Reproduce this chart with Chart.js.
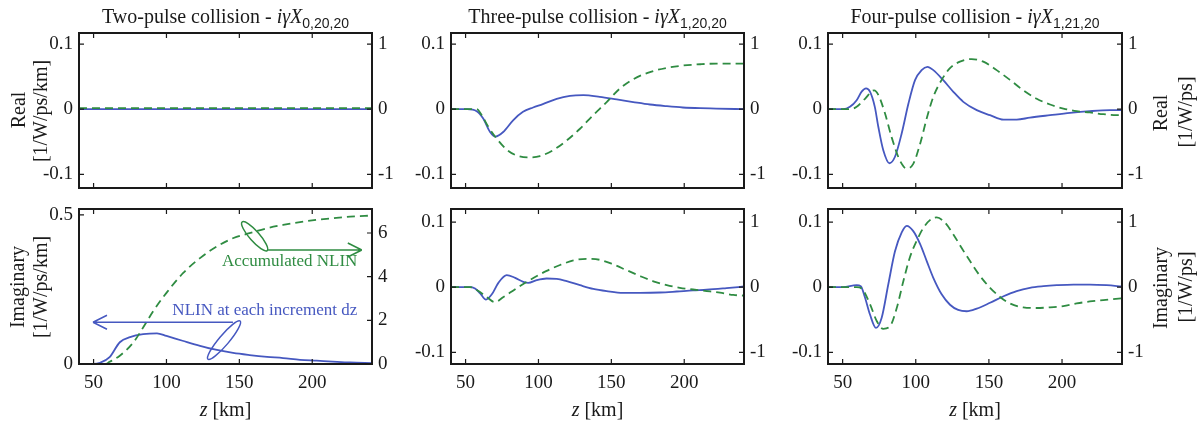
<!DOCTYPE html>
<html><head><meta charset="utf-8">
<script src="https://cdn.jsdelivr.net/npm/chart.js@4/dist/chart.umd.min.js"></script>
<style>
html,body{margin:0;padding:0;background:#fff;}
#wrap{position:relative;width:1200px;height:425px;overflow:hidden;font-family:"Liberation Serif",serif;color:#1a1a1a;}
.lbl{position:absolute;white-space:nowrap;transform:translate(-50%,-50%);font-size:20px;line-height:1;}
.rot{transform:translate(-50%,-50%) rotate(-90deg);}
.sub{font-family:"Liberation Sans",sans-serif;font-size:14px;position:relative;top:5px;}
i{font-style:italic;}
</style></head>
<body><div id="wrap"></div>
<script>
// ---------- tick values ----------
const xTicks = [50, 100, 150, 200];
const yTicksPm = [-0.1, 0, 0.1];
const y2TicksPm = [-1, 0, 1];
const yTicksTwoIm = [0, 0.5];
const y2TicksTwoIm = [0, 2, 4, 6];

// ---------- Two-pulse, real ----------
const zTwoReBlue = [40, 60, 80, 100, 120, 140, 160, 180, 200, 220, 241];
const twoReBlue = [0, 0, 0, 0, 0, 0, 0, 0, 0, 0, 0];
const zTwoReGreen = [40, 60, 80, 100, 120, 140, 160, 180, 200, 220, 241];
const twoReGreen = [0.015, 0.015, 0.015, 0.015, 0.015, 0.015, 0.015, 0.015, 0.015, 0.015, 0.015];

// ---------- Three-pulse, real ----------
const zThreeReBlue = [40, 51, 57.6, 62, 66.8, 70.5, 75.8, 82.6, 89.4, 96.3, 103, 112.5, 121.6, 130.8, 142, 153.7, 165, 176.5, 188, 199, 211, 222, 241];
const threeReBlue = [0, 0, -0.003, -0.014, -0.035, -0.042, -0.035, -0.017, -0.004, 0.0026, 0.0077, 0.016, 0.0205, 0.0215, 0.019, 0.015, 0.011, 0.0072, 0.0046, 0.0026, 0.0015, 0.001, 0];
const zThreeReGreen = [40, 57.6, 61, 65.6, 71.3, 78.2, 85, 94.2, 101, 110, 119.4, 128.5, 137.6, 146.8, 156, 165, 176.5, 188, 199, 211, 222, 241];
const threeReGreen = [0, 0, -0.09, -0.27, -0.45, -0.62, -0.71, -0.74, -0.72, -0.63, -0.48, -0.3, -0.09, 0.11, 0.32, 0.46, 0.57, 0.635, 0.67, 0.69, 0.70, 0.70];

// ---------- Four-pulse, real ----------
const zFourReBlue = [40, 50.3, 55, 59.6, 63, 66, 68.7, 72, 74.4, 77.8, 82, 85.8, 90.4, 95, 99.5, 104, 108, 112, 118.8, 125.7, 132.5, 141.7, 150.8, 160, 169, 178, 191.8, 205.5, 219, 232.8, 241];
const fourReBlue = [0, 0, 0.0036, 0.0138, 0.027, 0.032, 0.027, 0.0036, -0.027, -0.063, -0.083, -0.073, -0.037, 0.0087, 0.0446, 0.06, 0.065, 0.06, 0.0446, 0.0267, 0.0113, -0.0015, -0.0092, -0.016, -0.016, -0.013, -0.0092, -0.0056, -0.003, -0.0015, -0.0015];
const zFourReGreen = [40, 55, 59.6, 65.3, 71.5, 74.4, 79, 83.5, 89, 93.8, 98.3, 103, 107.5, 112, 117.7, 123.4, 130.2, 138.2, 146.2, 155.3, 164.4, 173.5, 182.7, 191.8, 200.9, 210, 219, 228.2, 237.4, 241];
const fourReGreen = [0, 0, 0.036, 0.16, 0.29, 0.22, -0.066, -0.43, -0.78, -0.91, -0.84, -0.53, -0.14, 0.19, 0.45, 0.63, 0.73, 0.77, 0.73, 0.6, 0.45, 0.29, 0.16, 0.072, 0.01, -0.03, -0.05, -0.077, -0.09, -0.09];

// ---------- Two-pulse, imaginary ----------
const zTwoImBlue = [40, 50, 54.4, 61, 68, 75, 84, 93.5, 100, 111, 123, 134.6, 145.7, 157, 169, 180, 191.6, 203, 214, 226, 241];
const twoImBlue = [0, 0, 0.004, 0.023, 0.073, 0.09, 0.1, 0.103, 0.094, 0.078, 0.061, 0.047, 0.037, 0.03, 0.024, 0.02, 0.014, 0.011, 0.008, 0.005, 0.003];
const zTwoImGreen = [40, 58, 61, 68, 77.3, 84, 91, 100, 111.5, 123, 134.5, 146, 157, 169, 180, 191.6, 203, 214.5, 226, 241];
const twoImGreen = [0, 0, 0.1, 0.38, 0.99, 1.67, 2.43, 3.26, 4.17, 4.85, 5.38, 5.77, 5.99, 6.22, 6.37, 6.5, 6.6, 6.68, 6.75, 6.8];

// ---------- Three-pulse, imaginary ----------
const zThreeImBlue = [40, 52.4, 56.5, 60, 64, 68, 72.5, 78.2, 84, 89.6, 93, 98.8, 105.6, 112.5, 119.4, 128.5, 137.6, 146.8, 158, 169.7, 183.4, 194.8, 206, 215.4, 229, 241];
const threeImBlue = [0, 0, -0.002, -0.0095, -0.019, -0.011, 0.0066, 0.0185, 0.0143, 0.0082, 0.0066, 0.0108, 0.0133, 0.0128, 0.0092, 0.003, -0.0026, -0.006, -0.0087, -0.0087, -0.0082, -0.0067, -0.005, -0.004, -0.0015, 0.001];
const zThreeImGreen = [40, 53.7, 58.8, 64.5, 70, 76, 82.8, 89.6, 96.5, 105.6, 114.8, 124, 133, 142, 151.3, 160.5, 169.7, 178.8, 188, 197, 206, 215.4, 224.5, 233.7, 241];
const threeImGreen = [0, 0, -0.06, -0.15, -0.23, -0.15, -0.05, 0.05, 0.14, 0.25, 0.34, 0.41, 0.435, 0.42, 0.35, 0.26, 0.17, 0.09, 0.03, -0.01, -0.036, -0.06, -0.085, -0.12, -0.13];

// ---------- Four-pulse, imaginary ----------
const zFourImBlue = [40, 50.3, 59.6, 62.4, 65.3, 68.7, 72.8, 76.7, 81.2, 85.8, 90.4, 93.8, 98.3, 103, 107.5, 112, 117.7, 123.4, 129, 134.8, 141.7, 150.8, 160, 169, 178, 187.3, 196.4, 207.8, 219, 230.5, 241];
const fourImBlue = [0, 0, 0.003, 0.0015, -0.016, -0.042, -0.0626, -0.047, 0.004, 0.055, 0.084, 0.094, 0.086, 0.066, 0.04, 0.0143, -0.011, -0.027, -0.035, -0.037, -0.033, -0.024, -0.014, -0.006, -0.001, 0.0015, 0.003, 0.004, 0.004, 0.003, 0.001];
const zFourImGreen = [40, 59.6, 63, 68.7, 73.3, 77.8, 82.4, 87, 91.5, 96, 100.6, 105.2, 110.9, 114.3, 120, 125.7, 131.4, 137.1, 144, 150.8, 157.6, 164.4, 173.5, 182.7, 191.8, 200.9, 210, 219, 228.2, 241];
const fourImGreen = [0, 0, -0.02, -0.26, -0.52, -0.64, -0.6, -0.32, 0.09, 0.46, 0.71, 0.91, 1.05, 1.07, 0.99, 0.81, 0.6, 0.4, 0.17, -0.01, -0.15, -0.25, -0.31, -0.32, -0.31, -0.29, -0.25, -0.22, -0.2, -0.17];

// ---------- annotation text ----------
const accText = 'Accumulated NLIN';
const incText = 'NLIN at each increment dz';

// ---------- layout ----------
const BLUE = '#4658c0', GREEN = '#2f8c42', INK = '#1a1a1a';
const FONT = '"Liberation Serif", serif';
const COLS = [{l:79, r:372}, {l:451, r:744}, {l:828, r:1122}];
const ROWS = [{t:33, b:188}, {t:209, b:364}];
const PAD = {l:64, r:44, t:22, b:50};
const wrap = document.getElementById('wrap');

const pts = (zs, vs) => zs.map((z, i) => ({x: z, y: vs[i]}));

const framePlugin = {
  id: 'frame',
  afterDraw(chart) {
    const {ctx, chartArea: a, scales} = chart;
    const tl = 5;
    ctx.save();
    ctx.strokeStyle = INK; ctx.lineWidth = 1.2;
    ctx.beginPath();
    scales.x.ticks.forEach(t => {
      const p = scales.x.getPixelForValue(t.value);
      ctx.moveTo(p, a.top); ctx.lineTo(p, a.top + tl);
      ctx.moveTo(p, a.bottom); ctx.lineTo(p, a.bottom - tl);
    });
    scales.y.ticks.forEach(t => {
      const p = scales.y.getPixelForValue(t.value);
      ctx.moveTo(a.left, p); ctx.lineTo(a.left + tl, p);
    });
    scales.y2.ticks.forEach(t => {
      const p = scales.y2.getPixelForValue(t.value);
      ctx.moveTo(a.right, p); ctx.lineTo(a.right - tl, p);
    });
    ctx.stroke();
    ctx.lineWidth = 2;
    ctx.strokeRect(a.left, a.top, a.right - a.left, a.bottom - a.top);
    ctx.restore();
  }
};

function arrowHead(ctx, x, y, dir) {
  ctx.moveTo(x, y); ctx.lineTo(x - dir * 14, y - 7);
  ctx.moveTo(x, y); ctx.lineTo(x - dir * 14, y + 7);
}

const annotPlugin = {
  id: 'annot',
  afterDatasetsDraw(chart) {
    const {ctx, scales: {x, y, y2}} = chart;
    ctx.save();
    ctx.lineWidth = 1.5;
    // accumulated (green, right axis)
    ctx.strokeStyle = GREEN; ctx.fillStyle = GREEN;
    ctx.beginPath();
    ctx.ellipse(x.getPixelForValue(160.5), y2.getPixelForValue(5.85), 19, 5, 0.85, 0, Math.PI * 2);
    const gy = y2.getPixelForValue(5.22);
    ctx.moveTo(x.getPixelForValue(169), gy); ctx.lineTo(x.getPixelForValue(234), gy);
    arrowHead(ctx, x.getPixelForValue(234), gy, 1);
    ctx.stroke();
    ctx.font = '17px ' + FONT; ctx.textAlign = 'center'; ctx.textBaseline = 'middle';
    ctx.fillText(accText, x.getPixelForValue(184.5), y2.getPixelForValue(4.68));
    // increment (blue, left axis)
    ctx.strokeStyle = BLUE; ctx.fillStyle = BLUE;
    ctx.beginPath();
    ctx.ellipse(x.getPixelForValue(139.5), y.getPixelForValue(0.08), 25, 5, -0.87, 0, Math.PI * 2);
    const by = y.getPixelForValue(0.14);
    ctx.moveTo(x.getPixelForValue(145.6), by); ctx.lineTo(x.getPixelForValue(49.6), by);
    arrowHead(ctx, x.getPixelForValue(49.6), by, -1);
    ctx.stroke();
    ctx.fillText(incText, x.getPixelForValue(167.5), y.getPixelForValue(0.178));
    ctx.restore();
  }
};

function makePanel(col, row, p) {
  const c = COLS[col], r = ROWS[row];
  const w = c.r - c.l + PAD.l + PAD.r, h = r.b - r.t + PAD.t + PAD.b;
  const cv = document.createElement('canvas');
  cv.width = w; cv.height = h;
  cv.style.cssText = `position:absolute;left:${c.l - PAD.l}px;top:${r.t - PAD.t}px;width:${w}px;height:${h}px;`;
  wrap.appendChild(cv);
  const tickFont = {family: FONT, size: 19};
  const yScale = (ticks, range, pos, width) => ({
    type: 'linear', position: pos, min: range[0], max: range[1],
    afterBuildTicks: s => { s.ticks = ticks.map(v => ({value: v})); },
    afterFit: s => { s.width = width; },
    ticks: {font: tickFont, color: INK, padding: 6, callback: v => String(v)},
    grid: {display: false, drawTicks: false},
    border: {display: false}
  });
  new Chart(cv, {
    type: 'line',
    data: {datasets: [
      {data: pts(p.zb, p.b), borderColor: BLUE, borderWidth: 1.8, pointRadius: 0, yAxisID: 'y', order: 1, cubicInterpolationMode: 'monotone'},
      {data: pts(p.zg, p.g), borderColor: GREEN, borderWidth: 1.8, borderDash: [8, 5], pointRadius: 0, yAxisID: 'y2', order: 0, cubicInterpolationMode: 'monotone'}
    ]},
    options: {
      responsive: false, animation: false, events: [],
      layout: {padding: {top: PAD.t, left: 0, right: 0, bottom: 0}},
      plugins: {legend: {display: false}, tooltip: {enabled: false}, title: {display: false}},
      scales: {
        x: {
          type: 'linear', min: 40, max: 241,
          afterBuildTicks: s => { s.ticks = xTicks.map(v => ({value: v})); },
          afterFit: s => { s.height = PAD.b; },
          ticks: {display: row === 1, font: tickFont, color: INK, padding: 8, maxRotation: 0, autoSkip: false, callback: v => String(v)},
          grid: {display: false, drawTicks: false},
          border: {display: false}
        },
        y: yScale(p.yt, p.yr, 'left', PAD.l),
        y2: yScale(p.y2t, p.y2r, 'right', PAD.r)
      }
    },
    plugins: p.annot ? [framePlugin, annotPlugin] : [framePlugin]
  });
}

const topR = [-0.121, 0.117], topR2 = [-1.21, 1.17];
const botR = [-0.118, 0.12], botR2 = [-1.18, 1.2];
makePanel(0, 0, {zb: zTwoReBlue, b: twoReBlue, zg: zTwoReGreen, g: twoReGreen, yt: yTicksPm, y2t: y2TicksPm, yr: topR, y2r: topR2});
makePanel(1, 0, {zb: zThreeReBlue, b: threeReBlue, zg: zThreeReGreen, g: threeReGreen, yt: yTicksPm, y2t: y2TicksPm, yr: topR, y2r: topR2});
makePanel(2, 0, {zb: zFourReBlue, b: fourReBlue, zg: zFourReGreen, g: fourReGreen, yt: yTicksPm, y2t: y2TicksPm, yr: topR, y2r: topR2});
makePanel(0, 1, {zb: zTwoImBlue, b: twoImBlue, zg: zTwoImGreen, g: twoImGreen, yt: yTicksTwoIm, y2t: y2TicksTwoIm, yr: [0, 0.52], y2r: [0, 7.1], annot: true});
makePanel(1, 1, {zb: zThreeImBlue, b: threeImBlue, zg: zThreeImGreen, g: threeImGreen, yt: yTicksPm, y2t: y2TicksPm, yr: botR, y2r: botR2});
makePanel(2, 1, {zb: zFourImBlue, b: fourImBlue, zg: zFourImGreen, g: fourImGreen, yt: yTicksPm, y2t: y2TicksPm, yr: botR, y2r: botR2});

// ---------- HTML text (titles, axis titles) ----------
function label(html, x, y, rot) {
  const d = document.createElement('div');
  d.className = 'lbl' + (rot ? ' rot' : '');
  d.style.left = x + 'px'; d.style.top = y + 'px';
  d.innerHTML = html;
  wrap.appendChild(d);
}
const titles = [
  'Two-pulse collision - <i>iγX</i><span class="sub">0,20,20</span>',
  'Three-pulse collision - <i>iγX</i><span class="sub">1,20,20</span>',
  'Four-pulse collision - <i>iγX</i><span class="sub">1,21,20</span>'
];
COLS.forEach((c, i) => {
  const cx = (c.l + c.r) / 2;
  label(titles[i], cx, 16);
  label('<i>z</i> [km]', cx, 409);
});
label('Real', 18, 110, true);
label('[1/W/ps/km]', 40, 111, true);
label('Imaginary', 17, 287, true);
label('[1/W/ps/km]', 40, 287, true);
label('Real', 1160, 113, true);
label('[1/W/ps]', 1185, 112, true);
label('Imaginary', 1160, 288, true);
label('[1/W/ps]', 1185, 287, true);
</script>
</body></html>
